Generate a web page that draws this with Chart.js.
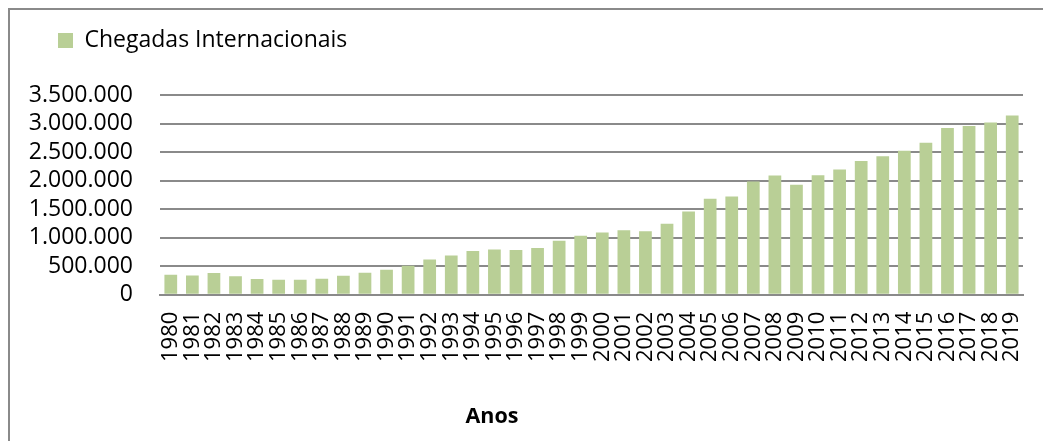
<!DOCTYPE html>
<html>
<head>
<meta charset="utf-8">
<script src="https://cdn.jsdelivr.net/npm/chart.js@4.4.0/dist/chart.umd.min.js"></script>
<style>
  html, body { margin: 0; padding: 0; background: #fff; overflow: hidden; }
  #wrap { position: relative; width: 1043px; height: 441px; overflow: hidden; }
  #frame { position: absolute; left: 8px; top: 8px; width: 1100px; height: 500px; border: 2px solid #8a8a8a; box-sizing: border-box; }
  #c { position: absolute; left: 0; top: 0; }
</style>
</head>
<body>
<div id="wrap">
  <div id="frame"></div>
  <canvas id="c" width="1043" height="441"></canvas>
</div>
<script>
const years = ['1980','1981','1982','1983','1984','1985','1986','1987','1988','1989',
  '1990','1991','1992','1993','1994','1995','1996','1997','1998','1999',
  '2000','2001','2002','2003','2004','2005','2006','2007','2008','2009',
  '2010','2011','2012','2013','2014','2015','2016','2017','2018','2019'];
const arrivals = [348000, 338000, 378000, 325000, 273000, 261000, 261000, 278000, 331000, 383000,
  435000, 505000, 618000, 688000, 766000, 790000, 783000, 818000, 947000, 1034000,
  1091000, 1131000, 1114000, 1242000, 1456000, 1680000, 1723000, 1984000, 2088000, 1926000,
  2095000, 2192000, 2344000, 2425000, 2523000, 2662000, 2923000, 2958000, 3017000, 3139000];
const seriesName = 'Chegadas Internacionais';
const axisTitle = 'Anos';
const yMax = 3500000;
const yStep = 500000;

function fmt(v) { return String(v).replace(/\B(?=(\d{3})+(?!\d))/g, '.'); }

const titlePlugin = {
  id: 'xTitle',
  afterDraw(chart) {
    const ctx = chart.ctx;
    ctx.save();
    ctx.font = 'bold 21.5px "Open Sans"';
    ctx.fillStyle = '#000';
    ctx.textAlign = 'center';
    ctx.textBaseline = 'alphabetic';
    ctx.fillText(axisTitle, 492, 423);
    ctx.restore();
  }
};

new Chart(document.getElementById('c'), {
  type: 'bar',
  data: {
    labels: years,
    datasets: [{
      label: seriesName,
      data: arrivals,
      backgroundColor: '#b9cf96',
      borderWidth: 0,
      categoryPercentage: 1,
      barPercentage: 0.59
    }]
  },
  options: {
    responsive: false,
    animation: false,
    devicePixelRatio: 1,
    layout: { padding: { left: 27, right: 20, top: -2, bottom: 62 } },
    plugins: {
      legend: {
        display: true,
        position: 'top',
        align: 'start',
        labels: {
          boxWidth: 15,
          boxHeight: 15,
          padding: 31,
          color: '#000',
          font: { family: '"Open Sans"', size: 23 }
        }
      },
      tooltip: { enabled: false }
    },
    scales: {
      x: {
        afterFit(scale) { scale.paddingLeft = 0; scale.paddingRight = 0; },
        grid: { display: false, drawTicks: false },
        border: { display: true, color: '#8a8a8a', width: 2 },
        ticks: {
          color: '#000',
          font: { family: '"Open Sans"', size: 22 },
          minRotation: 90,
          maxRotation: 90,
          autoSkip: false,
          padding: 17
        }
      },
      xTop: {
        type: 'category',
        position: 'top',
        grid: { display: false, drawTicks: false },
        border: { display: false },
        ticks: { display: false },
        afterFit(scale) { scale.height = 33; scale.paddingLeft = 0; scale.paddingRight = 0; }
      },
      y: {
        min: 0,
        max: yMax,
        afterFit(scale) { scale.width = 133; },
        grid: { color: '#8a8a8a', lineWidth: 2, drawTicks: false },
        border: { display: false },
        ticks: {
          stepSize: yStep,
          autoSkip: false,
          color: '#000',
          font: { family: '"Open Sans"', size: 23, lineHeight: 1 },
          padding: 27,
          callback: (v) => fmt(v)
        }
      }
    }
  },
  plugins: [titlePlugin]
});
</script>
</body>
</html>
